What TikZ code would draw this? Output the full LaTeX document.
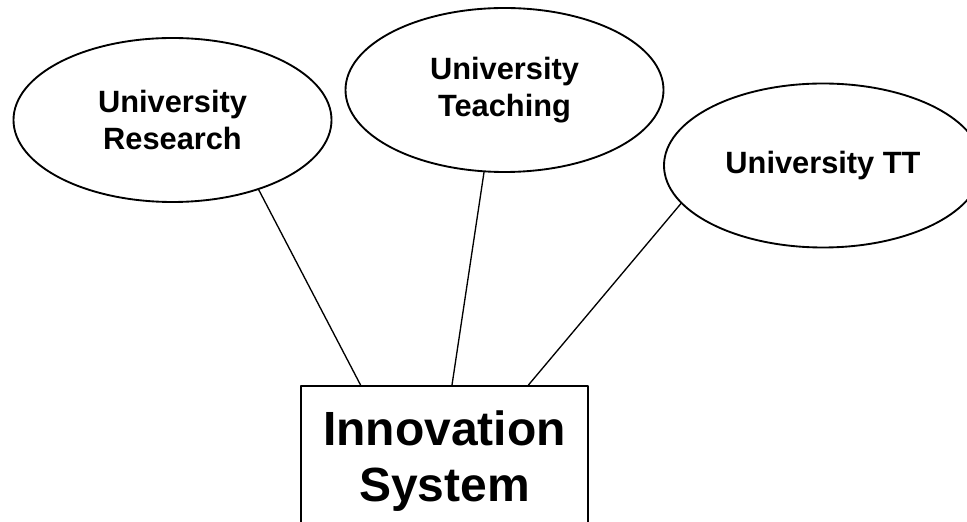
\documentclass[tikz,border=0pt]{standalone}
\usepackage{fontspec}
\setmainfont{Liberation Sans}
\usepackage{tikz}
\usetikzlibrary{calc,shapes.geometric}
\tikzset{
  UniBubble/.style={
    draw, ellipse, line width=1.4pt,
    minimum width=238.5pt, minimum height=123pt,
    inner sep=0pt, align=center,
    font=\fontsize{23.1}{27.75}\selectfont\bfseries
  },
  SysBox/.style={
    draw, rectangle, line width=1.4pt,
    minimum width=215pt, inner xsep=0pt, inner ysep=18.5pt,
    align=center,
    font=\fontsize{36}{42}\selectfont\bfseries
  },
  Link/.style={line width=1pt}
}

\begin{document}
\begin{tikzpicture}[x=0.75pt, y=0.75pt, line cap=round, line join=round]
  \useasboundingbox (0,0) rectangle (967,521);

  % the three university activities
  \node[UniBubble] (res) at (172.5,401) {University\\Research};
  \node[UniBubble] (teach) at (504.5,431) {University\\Teaching};
  \node[UniBubble] (tt) at (823,355.5) {University TT};

  % innovation system box, running off the bottom edge
  \node[SysBox, anchor=north] (sys) at (444.5,136) {Innovation\\System};

  % where the links meet the box
  \coordinate (sA) at ($(sys.north west)!0.209!(sys.north east)$);
  \coordinate (sB) at ($(sys.north west)!0.526!(sys.north east)$);
  \coordinate (sC) at ($(sys.north west)!0.791!(sys.north east)$);

  \draw[Link] (res.-39.5) -- (sA);
  \draw[Link] (teach.-104.5) -- (sB);
  \draw[Link] (tt.-165.3) -- (sC);
\end{tikzpicture}
\end{document}
